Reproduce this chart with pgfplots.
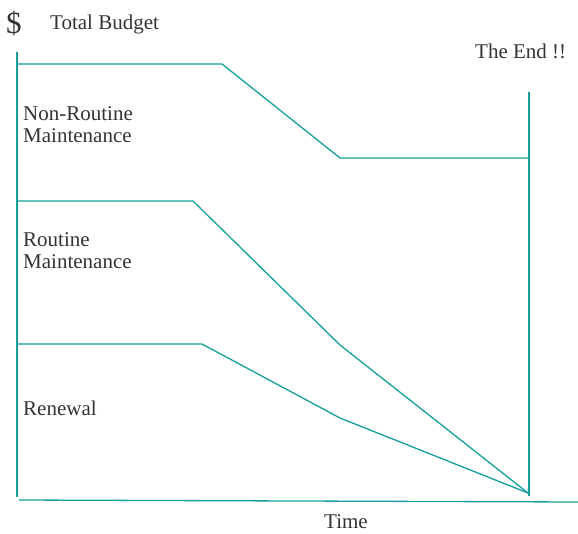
\documentclass[border=0pt]{standalone}
\usepackage{pgfplots}
\pgfplotsset{compat=1.18}
\usepackage{fontspec}
\setmainfont{Liberation Serif}
\definecolor{tealline}{RGB}{20,160,155}
\tikzset{tl/.style={draw=tealline, solid, line width=1.3pt, mark=none}}
\begin{document}
\begin{tikzpicture}
\begin{axis}[
  x=1pt, y=1pt, y dir=reverse,
  xmin=0, xmax=578, ymin=0, ymax=533,
  hide axis, clip=false, scale only axis,
]
% left vertical axis
\addplot[tl] coordinates {(17,52) (17,497)};
% bottom axis
\addplot[tl] coordinates {(19,500) (578,502)};
% total budget / non-routine boundary
\addplot[tl] coordinates {(17,64) (222,64) (340,158) (528,158)};
% routine boundary
\addplot[tl] coordinates {(17,201) (193,201) (340,345) (528,493)};
% renewal boundary
\addplot[tl] coordinates {(17,344) (202,344) (340,418) (528,493)};
% the end vertical
\addplot[tl] coordinates {(529,92) (529,496)};

\begin{scope}[every node/.style={inner sep=0pt, font=\fontsize{21}{23}\selectfont, text=black!80}]
\node[anchor=base west, font=\fontsize{31}{31}\selectfont] at (axis cs:6,33) {\$};
\node[anchor=base west] at (axis cs:50,29) {Total Budget};
\node[anchor=base west] at (axis cs:475,58) {The End !!};
\node[anchor=base west] at (axis cs:23,120) {Non-Routine};
\node[anchor=base west] at (axis cs:23,142) {Maintenance};
\node[anchor=base west] at (axis cs:23,246) {Routine};
\node[anchor=base west] at (axis cs:23,268) {Maintenance};
\node[anchor=base west] at (axis cs:23,415) {Renewal};
\node[anchor=base west] at (axis cs:324,528) {Time};
\end{scope}
\end{axis}
\pgfresetboundingbox
\path (current axis.south west) rectangle (current axis.north east);
\end{tikzpicture}
\end{document}
